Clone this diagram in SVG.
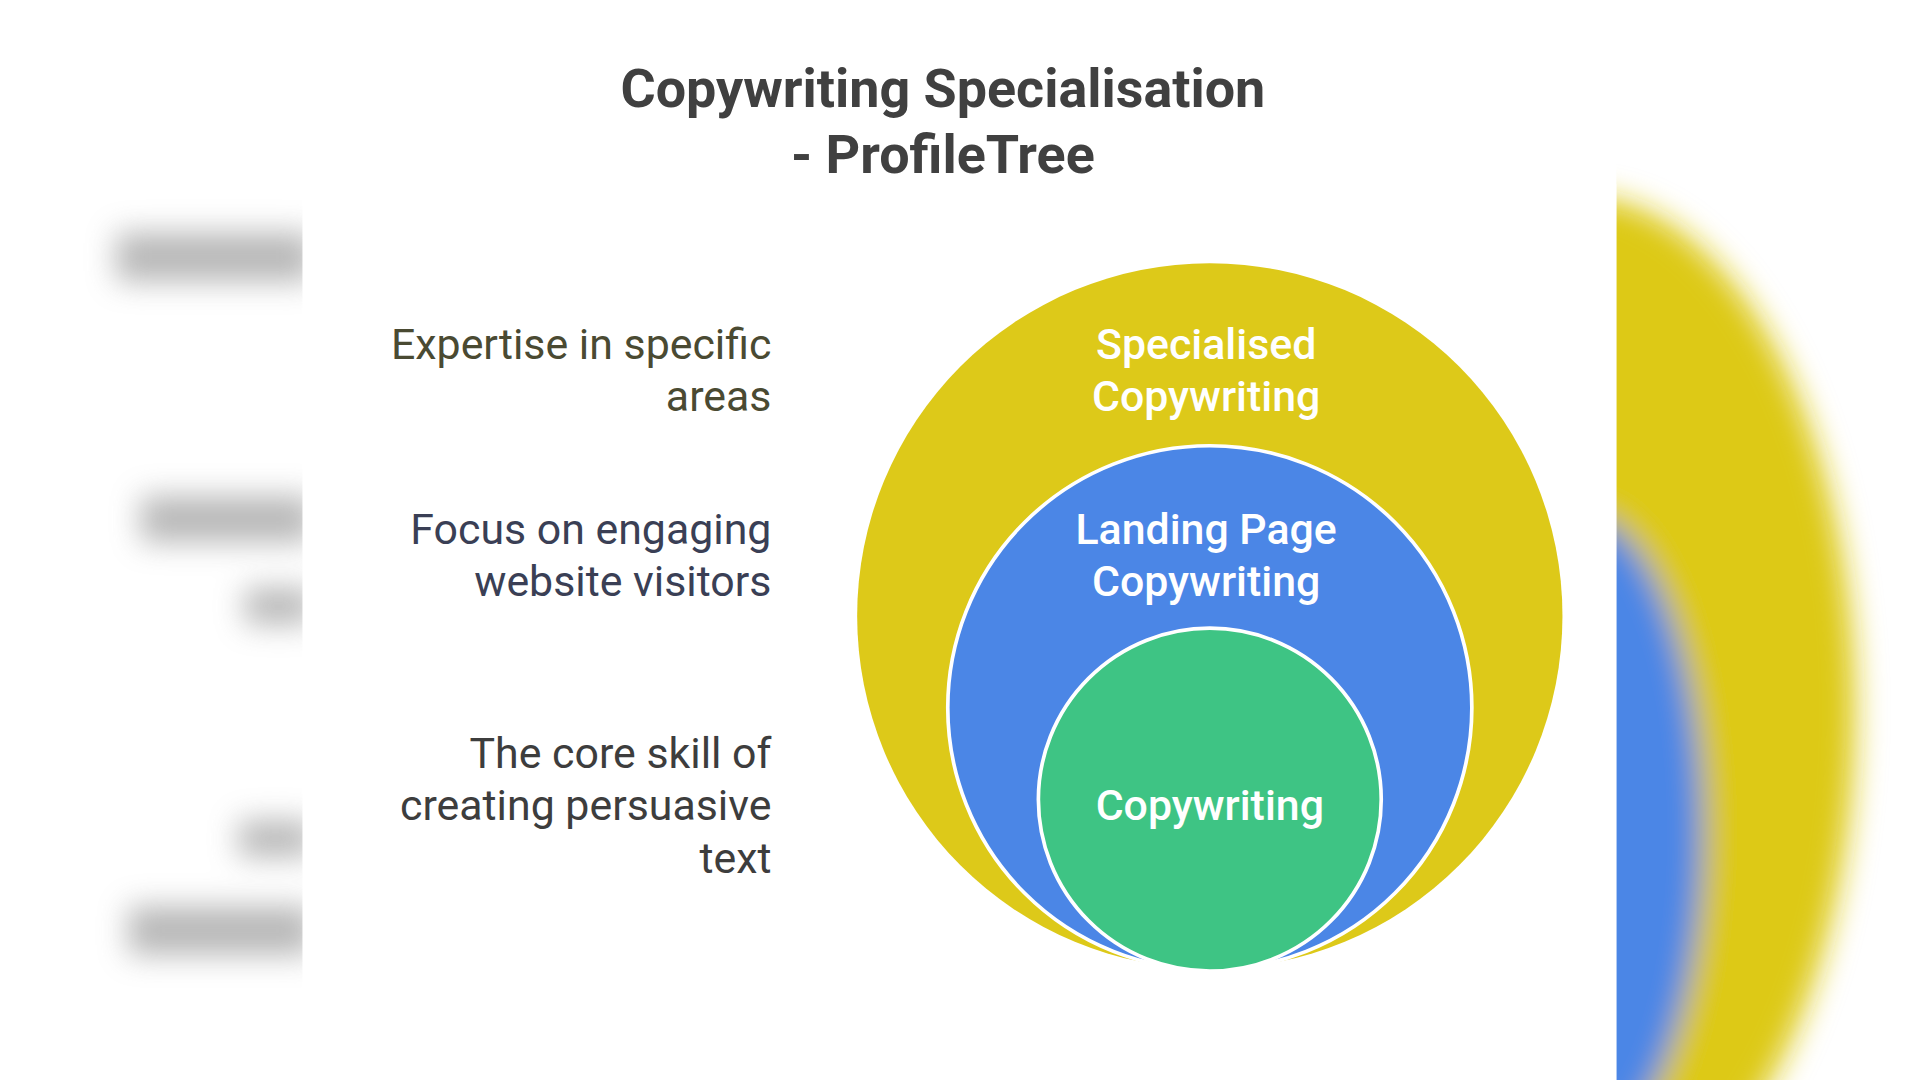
<svg xmlns="http://www.w3.org/2000/svg" width="1920" height="1080" viewBox="0 0 1920 1080">
<defs>
<filter id="blur" x="-50%" y="-50%" width="200%" height="200%"><feGaussianBlur stdDeviation="12"/></filter>
<clipPath id="rc"><rect x="1320" y="0" width="300" height="900"/></clipPath>
</defs>
<style>
.t{font-family:Roboto,"Liberation Sans",sans-serif;font-size:35px}
.l{fill:#3d3d3d;text-anchor:end}
.c{fill:#fff;text-anchor:middle;font-weight:500}
.h{font-family:Roboto,"Liberation Sans",sans-serif;font-size:44px;font-weight:700;fill:#404040;text-anchor:middle}
</style>
<rect width="1920" height="1080" fill="#fff"/>
<g transform="scale(1.2245)">
<g filter="url(#blur)" fill="#9a9a9a" opacity="0.7">
<rect x="95" y="190" width="160" height="40"/>
<rect x="115" y="405" width="140" height="38"/>
<rect x="200" y="480" width="55" height="30"/>
<rect x="195" y="670" width="60" height="30"/>
<rect x="105" y="740" width="150" height="40"/>
</g>
<g clip-path="url(#rc)"><g filter="url(#blur)">
<ellipse cx="1290" cy="580" rx="225" ry="420" fill="#ddc919"/>
<ellipse cx="1290" cy="680" rx="100" ry="260" fill="#4b86e6"/>
</g></g>
<rect x="247" y="150" width="1073" height="740" fill="#fff"/>
<text class="h" x="770" y="87">Copywriting Specialisation</text>
<text class="h" x="770" y="141">- ProfileTree</text>
<g id="specialised">
<circle cx="988" cy="503" r="288" fill="#ddc919"/>
<text class="t c" x="985" y="293">Specialised</text>
<text class="t c" x="985" y="336">Copywriting</text>
</g>
<g id="landing">
<circle cx="988" cy="578" r="214" fill="#4b86e6" stroke="#fff" stroke-width="3"/>
<text class="t c" x="985" y="444">Landing Page</text>
<text class="t c" x="985" y="487">Copywriting</text>
</g>
<g id="copywriting">
<circle cx="988" cy="653" r="140" fill="#3ec484" stroke="#fff" stroke-width="3"/>
<text class="t c" x="988" y="670">Copywriting</text>
</g>
<g id="labels">
<text class="t l" x="630" y="293" style="fill:#4a4a32">Expertise in specific</text>
<text class="t l" x="630" y="336" style="fill:#4a4a32">areas</text>
<text class="t l" x="630" y="444" style="fill:#3a3f55">Focus on engaging</text>
<text class="t l" x="630" y="487" style="fill:#3a3f55">website visitors</text>
<text class="t l" x="630" y="627">The core skill of</text>
<text class="t l" x="630" y="670">creating persuasive</text>
<text class="t l" x="630" y="713">text</text>
</g>
<g id="connectors"/>
</g>
</svg>
